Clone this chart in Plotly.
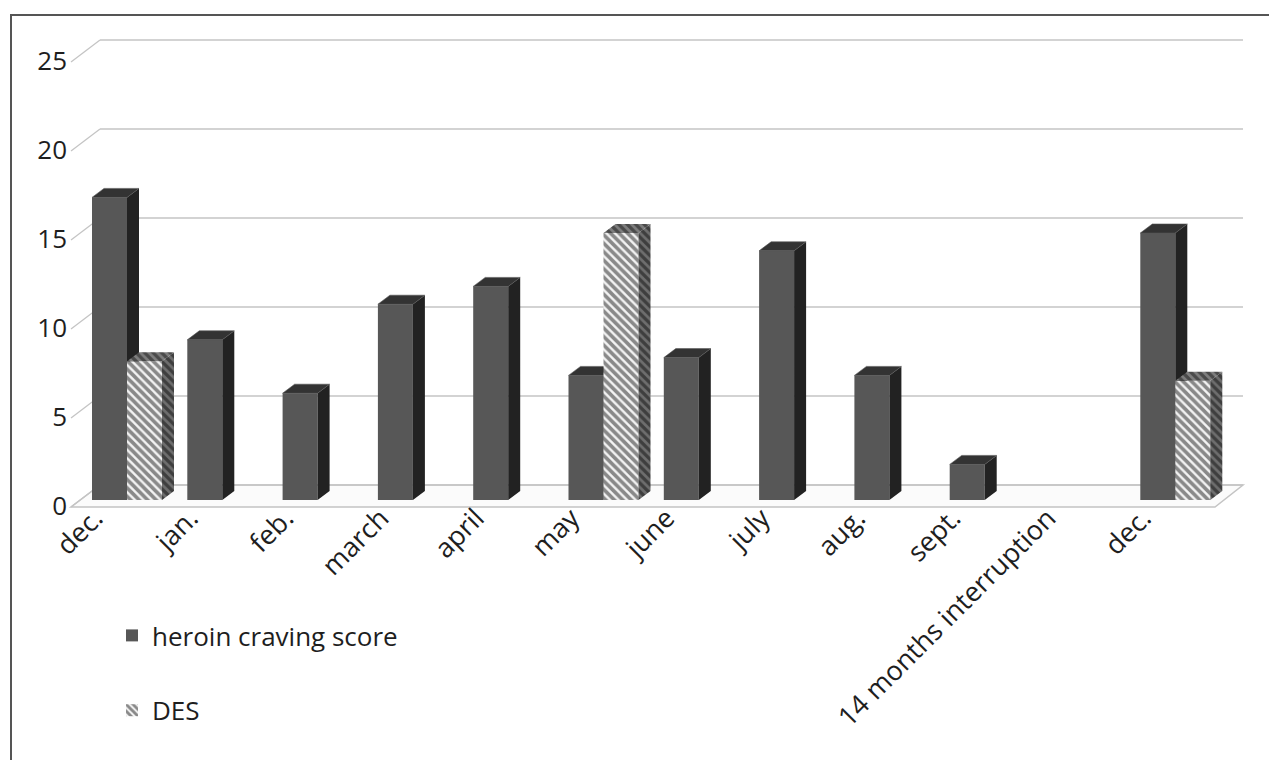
import plotly.graph_objects as go

# ---------------- data ----------------
categories = ["dec.", "jan.", "feb.", "march", "april", "may", "june",
              "july", "aug.", "sept.", "14 months interruption", "dec."]
heroin_craving = [17, 9, 6, 11, 12, 7, 8, 14, 7, 2, None, 15]
des_scores = [7.8, None, None, None, None, 15, None, None, None, None, None, 6.7]
y_ticks = [0, 5, 10, 15, 20, 25]

# ---------------- layout constants (pixels) ----------------
W, H = 1269, 760
PLOT_L, PLOT_R, PLOT_T, PLOT_B = 68, 1250, 30, 510
CAT0_PX, CAT_STEP_PX = 127, 95.3
Y0_PX, UNIT_PX = 500, 17.8

x_lo = (PLOT_L - CAT0_PX) / CAT_STEP_PX
x_hi = (PLOT_R - CAT0_PX) / CAT_STEP_PX
y_lo = (Y0_PX - PLOT_B) / UNIT_PX
y_hi = (Y0_PX - PLOT_T) / UNIT_PX


def dx(p):
    return p / CAT_STEP_PX


def dy(p):
    return p / UNIT_PX


BAR_W = dx(35)
DEPTH_X, DEPTH_Y = dx(12), dy(9)

# wall / floor geometry (relative to bar plane)
WALL_FRONT_X = dx(71 - CAT0_PX)
WALL_BACK_X = dx(100 - CAT0_PX)
WALL_RIGHT_X = dx(1243 - CAT0_PX)
FLOOR_FRONT_RIGHT_X = dx(1215 - CAT0_PX)
FRONT_DY = dy(Y0_PX - 507)   # negative
BACK_DY = dy(Y0_PX - 485)

FONT = "Open Sans"
TXT = "#1e1e1e"
GRID = "#c4c4c4"

HEROIN_FRONT = "#575757"
HEROIN_SIDE = "#222222"
HEROIN_TOP = "#333333"


def faces(values, offset):
    sx, sy, tx, ty = [], [], [], []
    for i, v in enumerate(values):
        if v is None:
            continue
        left = i + offset
        right = left + BAR_W
        sx += [right, right + DEPTH_X, right + DEPTH_X, right, right, None]
        sy += [0, DEPTH_Y, v + DEPTH_Y, v, 0, None]
        tx += [left, left + DEPTH_X, right + DEPTH_X, right, left, None]
        ty += [v, v + DEPTH_Y, v + DEPTH_Y, v, v, None]
    return sx, sy, tx, ty


idx = list(range(len(categories)))
fig = go.Figure()

# heroin craving score (first subplot layer)
fig.add_trace(go.Bar(
    x=idx, y=heroin_craving, width=BAR_W, offset=-BAR_W,
    name="heroin craving score", legendgroup="h",
    marker=dict(color=HEROIN_FRONT, line=dict(width=0)),
    xaxis="x", yaxis="y",
))
hsx, hsy, htx, hty = faces(heroin_craving, -BAR_W)
fig.add_trace(go.Scatter(x=hsx, y=hsy, fill="toself", fillcolor=HEROIN_SIDE,
                         mode="lines", line=dict(width=0), showlegend=False,
                         hoverinfo="skip", xaxis="x", yaxis="y"))
fig.add_trace(go.Scatter(x=htx, y=hty, fill="toself", fillcolor=HEROIN_TOP,
                         mode="lines", line=dict(width=0.6, color="#555555"),
                         showlegend=False, hoverinfo="skip", xaxis="x", yaxis="y"))

# DES (overlaid subplot so it sits in front of heroin side faces)
fig.add_trace(go.Bar(
    x=idx, y=des_scores, width=BAR_W, offset=0,
    name="DES", legendgroup="d",
    marker=dict(color="#ffffff", line=dict(width=0),
                pattern=dict(shape="\\", fgcolor="#1e1e1e", bgcolor="#f4f4f4",
                             size=6, solidity=0.6)),
    xaxis="x2", yaxis="y2",
))
dsx, dsy, dtx, dty = faces(des_scores, 0)
fig.add_trace(go.Scatter(x=dsx, y=dsy, fill="toself", mode="lines",
                         line=dict(width=0), showlegend=False, hoverinfo="skip",
                         fillpattern=dict(shape="\\", fgcolor="#0e0e0e",
                                          bgcolor="#6e6e6e", size=6, solidity=0.55),
                         xaxis="x2", yaxis="y2"))
fig.add_trace(go.Scatter(x=dtx, y=dty, fill="toself", mode="lines",
                         line=dict(width=0), showlegend=False, hoverinfo="skip",
                         fillpattern=dict(shape="\\", fgcolor="#151515",
                                          bgcolor="#7e7e7e", size=6, solidity=0.55),
                         xaxis="x2", yaxis="y2"))

# ---------------- walls, gridlines, floor ----------------
shapes = []
# floor
shapes.append(dict(type="path", xref="x", yref="y", layer="below",
                   path=(f"M {WALL_FRONT_X},{FRONT_DY} L {FLOOR_FRONT_RIGHT_X},{FRONT_DY} "
                         f"L {WALL_RIGHT_X},{BACK_DY} L {WALL_BACK_X},{BACK_DY} Z"),
                   fillcolor="#fbfbfb", line=dict(color=GRID, width=1.5)))
for v in y_ticks:
    shapes.append(dict(type="line", xref="x", yref="y", layer="below",
                       x0=WALL_FRONT_X, y0=v + FRONT_DY, x1=WALL_BACK_X, y1=v + BACK_DY,
                       line=dict(color=GRID, width=1.3)))
    shapes.append(dict(type="line", xref="x", yref="y", layer="below",
                       x0=WALL_BACK_X, y0=v + BACK_DY, x1=WALL_RIGHT_X, y1=v + BACK_DY,
                       line=dict(color=GRID, width=1.5)))
# outer frame
pw = PLOT_R - PLOT_L
ph = PLOT_B - PLOT_T
shapes.append(dict(type="rect", xref="paper", yref="paper", layer="above",
                   x0=(11 - PLOT_L) / pw, x1=(W + 20 - PLOT_L) / pw,
                   y0=(PLOT_B - (H + 20)) / ph, y1=(PLOT_B - 15) / ph,
                   line=dict(color="#555555", width=2)))

fig.update_layout(
    width=W, height=H,
    margin=dict(l=PLOT_L, r=W - PLOT_R, t=PLOT_T, b=H - PLOT_B, autoexpand=False),
    paper_bgcolor="white", plot_bgcolor="white",
    font=dict(family=FONT, color=TXT, size=26),
    barmode="overlay",
    shapes=shapes,
    showlegend=True,
    legend=dict(xref="container", yref="container", x=112 / W, y=1 - 612 / H,
                xanchor="left", yanchor="top", tracegroupgap=38,
                font=dict(family=FONT, size=26, color=TXT),
                bgcolor="rgba(0,0,0,0)"),
    xaxis=dict(range=[x_lo, x_hi], tickvals=idx, ticktext=categories,
               tickangle=-45, showgrid=False, zeroline=False, showline=False,
               ticks="", ticklabelshift=-32, ticklabelstandoff=-14,
               tickfont=dict(family=FONT, size=27, color=TXT)),
    yaxis=dict(range=[y_lo, y_hi], tickvals=y_ticks, showgrid=False,
               zeroline=False, showline=False, ticks="", ticklabelshift=6,
               tickfont=dict(family=FONT, size=26, color=TXT)),
    xaxis2=dict(range=[x_lo, x_hi], overlaying="x", matches="x", visible=False),
    yaxis2=dict(range=[y_lo, y_hi], overlaying="y", matches="y", visible=False),
)

fig.write_html("out.html")
